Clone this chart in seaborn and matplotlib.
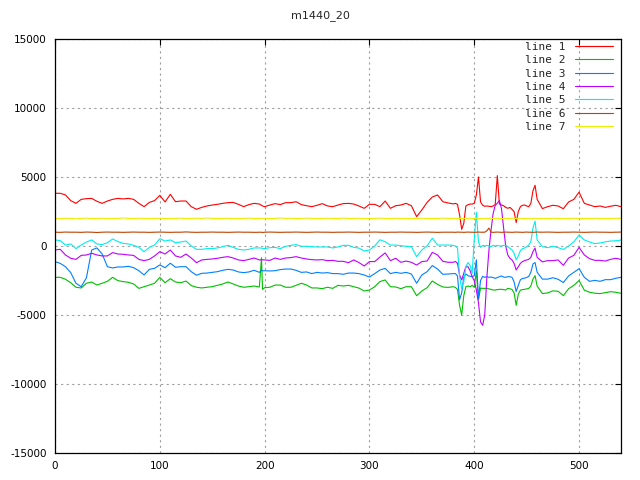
import matplotlib
matplotlib.use("Agg")
import matplotlib.pyplot as plt
import seaborn as sns
import pandas as pd

# x positions (sample grid, denser around the spikes)
x_vals = (list(range(0, 196, 5)) + [197, 198] + list(range(200, 376, 5))
          + list(range(380, 461, 2)) + list(range(465, 541, 5)))

line1 = ([3820, 3820, 3700, 3290, 3090, 3380, 3430, 3450, 3240, 3090, 3260, 3380, 3450, 3410, 3450, 3380, 3090, 2850, 3160, 3290]
         + [3670, 3190, 3740, 3210, 3260, 3260, 2850, 2660, 2800, 2900, 2970, 3020, 3090, 3140, 3160, 3020, 2850, 3000, 3090, 3040]
         + [2950, 2900]
         + [2850, 2970, 3070, 3000, 3140, 3140, 3210, 3000, 2920, 2850, 2950, 3070, 2900, 2850, 2970, 3070, 3090, 3040, 2900]
         + [2730, 3020, 3020, 2850, 3260, 2730, 2920, 2970, 3090, 2920, 2130, 2610, 3160, 3550, 3700, 3210, 3120]
         + [3050, 3090, 3020, 2250, 1210, 1640, 2900, 2990, 3040, 3040,
            3090, 3700, 5000, 3200, 2950, 2880, 2900, 2880, 2850, 2900,
            3000, 5100, 3040, 2970, 2920, 2800, 2730, 2800, 2660, 2490,
            1700, 2490, 2850, 2950, 2970, 2900, 2850, 3090, 4000, 4400, 3380]
         + [2710, 2850, 2950, 2900, 2700, 3190, 3380, 3900, 3090, 2970, 2850, 2900, 2800, 2880, 2950, 2850])

line2 = ([-2270, -2270, -2410, -2660, -2990, -3040, -2700, -2610, -2830, -2700, -2560, -2270, -2510, -2580, -2630, -2750, -3070, -2950, -2830, -2700]
         + [-2270, -2660, -2370, -2610, -2660, -2540, -2870, -2990, -3040, -2990, -2950, -2850, -2750, -2610, -2750, -2900, -2990, -2950, -2900, -2970]
         + [-850, -3150]
         + [-3020, -2990, -2830, -2830, -2990, -2990, -2850, -2700, -2830, -3040, -3040, -3090, -2990, -3070, -2850, -2900, -2850, -2950, -3050]
         + [-3260, -3190, -2950, -2580, -2460, -2950, -2970, -3090, -2950, -2950, -3600, -3260, -3020, -2540, -2780, -2970, -3000]
         + [-2950, -3000, -3150, -4300, -5000, -3600, -2950, -2900, -2950, -2850,
            -3000, -1800, -3900, -3050, -3070, -3070, -3070, -3110, -3140, -3190,
            -3190, -3160, -3140, -3140, -3160, -3190, -3070, -3100, -3150, -3400,
            -4300, -3500, -3200, -3160, -3140, -3110, -3070, -2900, -2400, -2150, -2900]
         + [-3450, -3400, -3250, -3280, -3600, -3100, -2850, -2500, -3200, -3350, -3420, -3450, -3380, -3310, -3350, -3430])

line3 = ([-1130, -1260, -1500, -1930, -2700, -2950, -2300, -290, -140, -580, -1500, -1590, -1520, -1520, -1470, -1570, -1790, -2100, -1690, -1620]
         + [-1370, -1570, -1250, -1540, -1500, -1500, -1860, -2120, -1980, -1960, -1910, -1860, -1760, -1690, -1740, -1880, -1930, -1880, -1760, -1910]
         + [-1750, -1800]
         + [-1790, -1810, -1790, -1710, -1670, -1670, -1760, -1910, -1880, -2000, -1910, -1960, -1930, -2000, -2000, -2050, -1960, -1960, -2000]
         + [-2100, -2250, -2000, -1740, -1620, -2000, -1910, -1980, -1910, -2030, -2700, -2100, -1860, -1420, -1670, -2050, -2030]
         + [-2000, -2000, -2170, -3900, -3400, -2250, -2030, -2150, -2200, -2220,
            -2150, -1000, -3800, -2500, -2200, -2270, -2220, -2270, -2250, -2290,
            -2340, -2290, -2220, -2170, -2250, -2270, -2220, -2230, -2270, -2600,
            -3300, -2850, -2450, -2350, -2330, -2280, -2200, -1900, -1300, -1200, -1900]
         + [-2400, -2400, -2300, -2410, -2650, -2170, -1910, -1640, -2270, -2560, -2490, -2560, -2440, -2440, -2340, -2270])

line4 = ([-290, -240, -650, -890, -970, -680, -650, -530, -650, -720, -720, -480, -580, -600, -650, -680, -970, -1060, -970, -720]
         + [-410, -580, -290, -720, -820, -580, -870, -1210, -1010, -970, -940, -890, -820, -770, -870, -1010, -1060, -970, -870, -1010]
         + [-1000, -1000]
         + [-1010, -1040, -870, -970, -870, -840, -770, -870, -940, -990, -1010, -990, -1060, -1040, -1110, -1110, -1210, -1010, -1200]
         + [-1450, -1130, -1130, -800, -500, -1060, -890, -1180, -1090, -1180, -1380, -1130, -1090, -460, -650, -1110, -1180]
         + [-1180, -1120, -1250, -2100, -2460, -1980, -1500, -1500, -1790, -2220,
            -2510, -3190, -4100, -5500, -5750, -5000, -2300, -300, 1150, 2350,
            2950, 3100, 3300, 2700, 1300, 0, -650, -890, -1010, -1260,
            -1740, -1500, -1260, -1130, -1060, -1010, -970, -820, -410, -150, -820]
         + [-1150, -1060, -1060, -1010, -1400, -870, -680, -100, -650, -920, -1040, -1040, -1090, -970, -890, -970])

line5 = ([440, 390, 70, 150, -190, 70, 290, 440, 150, 100, 240, 510, 320, 190, 150, 50, -100, -410, -100, 70]
         + [530, 360, 440, 240, 290, 360, 0, -240, -240, -190, -190, -140, -50, 50, -100, -240, -290, -240, -140, -140]
         + [-150, -170]
         + [-190, -120, -100, -190, -20, 50, 100, -20, -20, -50, -70, -70, -70, -140, -70, 50, 50, -100, -150]
         + [-360, -290, 0, 450, 310, 70, 70, 20, -20, -50, -770, -290, 20, 560, 70, 70, 70]
         + [50, 0, -150, -2200, -3100, -2600, -1500, -1200, -1400, -2000,
            500, 2450, 300, -100, 50, 0, 50, 0, -50, 50,
            0, 50, 0, 0, 50, 50, -50, -170, -290, -530,
            -1000, -720, -340, -190, -150, -50, 70, 320, 1300, 1800, 440]
         + [-50, -120, -20, -120, -250, 0, 300, 800, 440, 290, 170, 220, 300, 360, 380, 430])

line6 = ([1000, 990, 1010, 1000, 1000, 990, 1010, 1000, 980, 1000, 1010, 1000, 1000, 990, 1000, 1010, 1000, 1000, 990, 1000]
         + [1010, 1000, 990, 1000, 1000, 1020, 1000, 990, 1000, 1000, 1010, 1000, 1000, 990, 1000, 1010, 1000, 1000, 990, 1000]
         + [1000, 980]
         + [1000, 1010, 1000, 990, 1000, 1000, 1010, 1000, 990, 1000, 1010, 1000, 1000, 990, 1000, 1000, 1010, 1000, 990, 1000,
            1000, 1010, 1000, 990, 1000, 1000, 1010, 1000, 1000, 990, 1000, 1010, 1000, 990, 1000, 1000]
         + [1000, 990, 1010, 1000, 1000, 990, 1000, 1010, 1000, 1000,
            990, 1000, 1010, 1000, 1000, 1000, 1100, 1300, 1000, 990,
            1000, 1010, 1000, 990, 1000, 1010, 1000, 1000, 990, 1000,
            1010, 1000, 1000, 990, 1000, 1010, 1000, 1000, 990, 1000, 1010]
         + [1000, 1010, 1000, 990, 1000, 1000, 1010, 1000, 990, 1000, 1010, 1000, 1000, 990, 1000, 1010])

line7 = ([2000, 1980, 2010, 2000, 1970, 2000, 2020, 1990, 2000, 2010, 1980, 2000, 2000, 2030, 2000, 1990, 2010, 2000, 1980, 2000]
         + [2010, 1990, 2000, 2000, 2020, 1980, 2000, 2010, 2000, 2030, 2000, 1990, 2000, 2010, 1980, 2000, 2000, 2020, 1990, 2000]
         + [2010, 2000]
         + [2010, 1990, 2000, 2030, 2000, 2010, 1990, 2000, 2020, 2000, 1980, 2000, 2010, 2000, 1990, 2020, 2000, 2000, 2010, 1980,
            2000, 2000, 2020, 2000, 1990, 2010, 2000, 2000, 1980, 2000, 2010, 2000, 1990, 2000, 2020, 2000]
         + [2000, 2010, 1990, 2000, 1980, 2000, 2010, 2000, 2020, 1990,
            2000, 2010, 1990, 2000, 1980, 2010, 2000, 2000, 2020, 1990,
            2000, 2010, 2000, 1980, 2000, 2010, 1990, 2000, 2020, 2000,
            1980, 2000, 2010, 2000, 1990, 2000, 2010, 2000, 1990, 2020, 2000]
         + [2000, 1990, 2010, 2000, 1980, 2000, 2010, 2000, 2000, 1990, 2010, 2000, 1980, 2000, 2010, 2000])

series_names = ["line 1", "line 2", "line 3", "line 4", "line 5", "line 6", "line 7"]
series_values = [line1, line2, line3, line4, line5, line6, line7]
colors = ["#ff0000", "#00c000", "#0080ff", "#c000ff", "#00eeee", "#c04000", "#eeee00"]
x_ticks = [0, 100, 200, 300, 400, 500]
y_ticks = [-15000, -10000, -5000, 0, 5000, 10000, 15000]
title = "m1440_20"

rows = []
for name, vals in zip(series_names, series_values):
    assert len(vals) == len(x_vals), (name, len(vals), len(x_vals))
    for xv, yv in zip(x_vals, vals):
        rows.append((name, xv, yv))
df = pd.DataFrame(rows, columns=["series", "x", "value"])

sns.set_style("white")
plt.rcParams["font.family"] = ["DejaVu Sans"]

fig = plt.figure(figsize=(6.4, 4.8), dpi=100)
ax = fig.add_axes([55 / 640, 27 / 480, 566 / 640, 414 / 480])

sns.lineplot(data=df, x="x", y="value", hue="series", hue_order=series_names,
             palette=colors, estimator=None, sort=False, linewidth=0.8, ax=ax)

ax.set_xlim(0, 540)
ax.set_ylim(-15000, 15000)
ax.set_xticks(x_ticks)
ax.set_yticks(y_ticks)
ax.set_xticklabels([str(t) for t in x_ticks])
ax.set_yticklabels([str(t) for t in y_ticks])
ax.set_xlabel("")
ax.set_ylabel("")
ax.grid(True, color="#a0a0a0", linestyle=(0, (2, 3)), linewidth=0.8)
ax.tick_params(direction="in", length=4, width=0.8, top=True, right=True,
               labelsize=7.5, colors="black", pad=6)
for sp in ax.spines.values():
    sp.set_color("black")
    sp.set_linewidth(0.9)

handles, labels = ax.get_legend_handles_labels()
leg = ax.legend(handles, labels, loc="upper right",
                bbox_to_anchor=(613 / 640, 1 - 42 / 480), bbox_transform=fig.transFigure,
                frameon=False, markerfirst=False, fontsize=8, handlelength=3.4,
                handletextpad=0.9, labelspacing=0.3, borderpad=0, borderaxespad=0)
for t in leg.get_texts():
    t.set_family("DejaVu Sans Mono")

fig.text(0.5, 1 - 16 / 480, title, ha="center", va="center", fontsize=8)

fig.savefig("out.png", dpi=100)
